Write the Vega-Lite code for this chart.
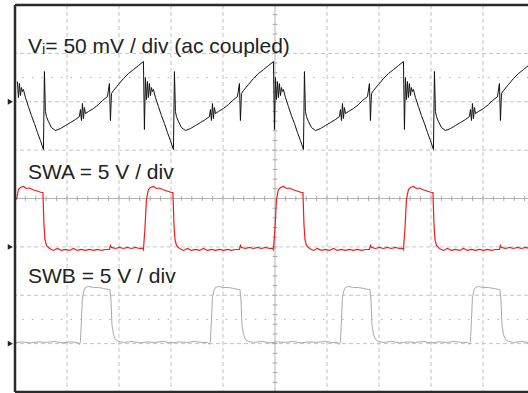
{
  "$schema": "https://vega.github.io/schema/vega-lite/v6.json",
  "width": 513,
  "height": 387,
  "autosize": {"type": "none"},
  "padding": {"left": 15, "top": 5, "right": 0, "bottom": 1},
  "background": "white",
  "config": {"view": {"stroke": null}},
  "datasets": {
    "vi": [
      {"t":0.047,"v":2.417},{"t":0.066,"v":2.087},{"t":0.085,"v":2.376},{"t":0.105,"v":2.128},{"t":0.124,"v":2.293},{"t":0.143,"v":2.211},{"t":0.162,"v":2.252},{"t":0.201,"v":2.087},{"t":0.258,"v":1.901},{"t":0.316,"v":1.715},{"t":0.374,"v":1.550},{"t":0.432,"v":1.364},{"t":0.489,"v":1.198},{"t":0.547,"v":1.012},{"t":0.566,"v":2.624},{"t":0.585,"v":1.798},{"t":0.605,"v":1.694},{"t":0.643,"v":1.591},{"t":0.701,"v":1.467},{"t":0.778,"v":1.405},{"t":0.874,"v":1.446},{"t":0.970,"v":1.508},{"t":1.066,"v":1.570},{"t":1.162,"v":1.632},{"t":1.239,"v":1.694},{"t":1.258,"v":1.839},{"t":1.278,"v":1.612},{"t":1.297,"v":1.963},{"t":1.316,"v":1.653},{"t":1.335,"v":1.880},{"t":1.355,"v":1.756},{"t":1.412,"v":1.798},{"t":1.508,"v":1.860},{"t":1.605,"v":1.942},{"t":1.682,"v":2.025},{"t":1.778,"v":2.107},{"t":1.816,"v":2.376},{"t":1.835,"v":1.612},{"t":1.855,"v":2.169},{"t":1.893,"v":2.231},{"t":1.989,"v":2.355},{"t":2.085,"v":2.479},{"t":2.182,"v":2.583},{"t":2.278,"v":2.665},{"t":2.374,"v":2.748},
      {"t":2.470,"v":2.831},{"t":2.489,"v":1.426},{"t":2.508,"v":2.500},{"t":2.528,"v":2.045},{"t":2.547,"v":2.417},{"t":2.566,"v":2.087},{"t":2.585,"v":2.376},{"t":2.605,"v":2.128},{"t":2.624,"v":2.293},{"t":2.643,"v":2.211},{"t":2.662,"v":2.252},{"t":2.701,"v":2.087},{"t":2.758,"v":1.901},{"t":2.816,"v":1.715},{"t":2.874,"v":1.550},{"t":2.932,"v":1.364},{"t":2.989,"v":1.198},{"t":3.047,"v":1.012},{"t":3.066,"v":2.624},{"t":3.085,"v":1.798},{"t":3.105,"v":1.694},{"t":3.143,"v":1.591},{"t":3.201,"v":1.467},{"t":3.278,"v":1.405},{"t":3.374,"v":1.446},{"t":3.470,"v":1.508},{"t":3.566,"v":1.570},{"t":3.662,"v":1.632},{"t":3.739,"v":1.694},{"t":3.758,"v":1.839},{"t":3.778,"v":1.612},{"t":3.797,"v":1.963},{"t":3.816,"v":1.653},{"t":3.835,"v":1.880},{"t":3.855,"v":1.756},{"t":3.912,"v":1.798},{"t":4.008,"v":1.860},{"t":4.105,"v":1.942},{"t":4.182,"v":2.025},{"t":4.278,"v":2.107},{"t":4.316,"v":2.376},{"t":4.335,"v":1.612},{"t":4.355,"v":2.169},{"t":4.393,"v":2.231},{"t":4.489,"v":2.355},{"t":4.585,"v":2.479},{"t":4.682,"v":2.583},{"t":4.778,"v":2.665},{"t":4.874,"v":2.748},
      {"t":4.970,"v":2.831},{"t":4.989,"v":1.426},{"t":5.008,"v":2.500},{"t":5.028,"v":2.045},{"t":5.047,"v":2.417},{"t":5.066,"v":2.087},{"t":5.085,"v":2.376},{"t":5.105,"v":2.128},{"t":5.124,"v":2.293},{"t":5.143,"v":2.211},{"t":5.162,"v":2.252},{"t":5.201,"v":2.087},{"t":5.258,"v":1.901},{"t":5.316,"v":1.715},{"t":5.374,"v":1.550},{"t":5.432,"v":1.364},{"t":5.489,"v":1.198},{"t":5.547,"v":1.012},{"t":5.566,"v":2.624},{"t":5.585,"v":1.798},{"t":5.605,"v":1.694},{"t":5.643,"v":1.591},{"t":5.701,"v":1.467},{"t":5.778,"v":1.405},{"t":5.874,"v":1.446},{"t":5.970,"v":1.508},{"t":6.066,"v":1.570},{"t":6.162,"v":1.632},{"t":6.239,"v":1.694},{"t":6.258,"v":1.839},{"t":6.278,"v":1.612},{"t":6.297,"v":1.963},{"t":6.316,"v":1.653},{"t":6.335,"v":1.880},{"t":6.355,"v":1.756},{"t":6.412,"v":1.798},{"t":6.508,"v":1.860},{"t":6.605,"v":1.942},{"t":6.682,"v":2.025},{"t":6.778,"v":2.107},{"t":6.816,"v":2.376},{"t":6.835,"v":1.612},{"t":6.855,"v":2.169},{"t":6.893,"v":2.231},{"t":6.989,"v":2.355},{"t":7.085,"v":2.479},{"t":7.182,"v":2.583},{"t":7.278,"v":2.665},{"t":7.374,"v":2.748},
      {"t":7.470,"v":2.831},{"t":7.489,"v":1.426},{"t":7.508,"v":2.500},{"t":7.528,"v":2.045},{"t":7.547,"v":2.417},{"t":7.566,"v":2.087},{"t":7.585,"v":2.376},{"t":7.605,"v":2.128},{"t":7.624,"v":2.293},{"t":7.643,"v":2.211},{"t":7.662,"v":2.252},{"t":7.701,"v":2.087},{"t":7.758,"v":1.901},{"t":7.816,"v":1.715},{"t":7.874,"v":1.550},{"t":7.932,"v":1.364},{"t":7.989,"v":1.198},{"t":8.047,"v":1.012},{"t":8.066,"v":2.624},{"t":8.085,"v":1.798},{"t":8.105,"v":1.694},{"t":8.143,"v":1.591},{"t":8.201,"v":1.467},{"t":8.278,"v":1.405},{"t":8.374,"v":1.446},{"t":8.470,"v":1.508},{"t":8.566,"v":1.570},{"t":8.662,"v":1.632},{"t":8.739,"v":1.694},{"t":8.758,"v":1.839},{"t":8.778,"v":1.612},{"t":8.797,"v":1.963},{"t":8.816,"v":1.653},{"t":8.835,"v":1.880},{"t":8.855,"v":1.756},{"t":8.912,"v":1.798},{"t":9.008,"v":1.860},{"t":9.105,"v":1.942},{"t":9.182,"v":2.025},{"t":9.278,"v":2.107},{"t":9.316,"v":2.376},{"t":9.335,"v":1.612},{"t":9.355,"v":2.169},{"t":9.393,"v":2.231},{"t":9.489,"v":2.355},{"t":9.585,"v":2.479},{"t":9.682,"v":2.583},{"t":9.778,"v":2.665},{"t":9.874,"v":2.748},{"t":9.970,"v":2.831}
    ],
    "swa": [
      {"t":0.028,"v":-0.021},{"t":0.066,"v":0.186},{"t":0.105,"v":0.227},{"t":0.162,"v":0.248},{"t":0.220,"v":0.207},{"t":0.278,"v":0.217},{"t":0.335,"v":0.186},{"t":0.393,"v":0.165},{"t":0.451,"v":0.145},{"t":0.508,"v":0.124},{"t":0.537,"v":0.124},{"t":0.557,"v":-0.537},{"t":0.576,"v":-0.847},{"t":0.605,"v":-0.971},{"t":0.662,"v":-1.033},{"t":0.739,"v":-1.074},{"t":0.816,"v":-1.033},{"t":0.893,"v":-1.074},{"t":0.970,"v":-1.054},{"t":1.047,"v":-1.074},{"t":1.124,"v":-1.033},{"t":1.201,"v":-1.074},{"t":1.278,"v":-1.054},{"t":1.355,"v":-1.074},{"t":1.432,"v":-1.054},{"t":1.508,"v":-1.074},{"t":1.585,"v":-1.054},{"t":1.662,"v":-1.074},{"t":1.739,"v":-1.054},{"t":1.816,"v":-1.054},{"t":1.835,"v":-0.971},{"t":1.855,"v":-1.012},{"t":1.932,"v":-1.033},{"t":2.008,"v":-1.012},{"t":2.085,"v":-1.033},{"t":2.162,"v":-1.012},{"t":2.239,"v":-1.033},{"t":2.316,"v":-1.012},{"t":2.393,"v":-1.033},{"t":2.460,"v":-1.033},
      {"t":2.470,"v":-1.054},{"t":2.499,"v":-0.620},{"t":2.528,"v":-0.021},{"t":2.566,"v":0.186},{"t":2.605,"v":0.227},{"t":2.662,"v":0.248},{"t":2.720,"v":0.207},{"t":2.778,"v":0.217},{"t":2.835,"v":0.186},{"t":2.893,"v":0.165},{"t":2.951,"v":0.145},{"t":3.008,"v":0.124},{"t":3.037,"v":0.124},{"t":3.057,"v":-0.537},{"t":3.076,"v":-0.847},{"t":3.105,"v":-0.971},{"t":3.162,"v":-1.033},{"t":3.239,"v":-1.074},{"t":3.316,"v":-1.033},{"t":3.393,"v":-1.074},{"t":3.470,"v":-1.054},{"t":3.547,"v":-1.074},{"t":3.624,"v":-1.033},{"t":3.701,"v":-1.074},{"t":3.778,"v":-1.054},{"t":3.855,"v":-1.074},{"t":3.932,"v":-1.054},{"t":4.008,"v":-1.074},{"t":4.085,"v":-1.054},{"t":4.162,"v":-1.074},{"t":4.239,"v":-1.054},{"t":4.316,"v":-1.054},{"t":4.335,"v":-0.971},{"t":4.355,"v":-1.012},{"t":4.432,"v":-1.033},{"t":4.508,"v":-1.012},{"t":4.585,"v":-1.033},{"t":4.662,"v":-1.012},{"t":4.739,"v":-1.033},{"t":4.816,"v":-1.012},{"t":4.893,"v":-1.033},{"t":4.960,"v":-1.033},
      {"t":4.970,"v":-1.054},{"t":4.999,"v":-0.620},{"t":5.028,"v":-0.021},{"t":5.066,"v":0.186},{"t":5.105,"v":0.227},{"t":5.162,"v":0.248},{"t":5.220,"v":0.207},{"t":5.278,"v":0.217},{"t":5.335,"v":0.186},{"t":5.393,"v":0.165},{"t":5.451,"v":0.145},{"t":5.508,"v":0.124},{"t":5.537,"v":0.124},{"t":5.557,"v":-0.537},{"t":5.576,"v":-0.847},{"t":5.605,"v":-0.971},{"t":5.662,"v":-1.033},{"t":5.739,"v":-1.074},{"t":5.816,"v":-1.033},{"t":5.893,"v":-1.074},{"t":5.970,"v":-1.054},{"t":6.047,"v":-1.074},{"t":6.124,"v":-1.033},{"t":6.201,"v":-1.074},{"t":6.278,"v":-1.054},{"t":6.355,"v":-1.074},{"t":6.432,"v":-1.054},{"t":6.508,"v":-1.074},{"t":6.585,"v":-1.054},{"t":6.662,"v":-1.074},{"t":6.739,"v":-1.054},{"t":6.816,"v":-1.054},{"t":6.835,"v":-0.971},{"t":6.855,"v":-1.012},{"t":6.932,"v":-1.033},{"t":7.008,"v":-1.012},{"t":7.085,"v":-1.033},{"t":7.162,"v":-1.012},{"t":7.239,"v":-1.033},{"t":7.316,"v":-1.012},{"t":7.393,"v":-1.033},{"t":7.460,"v":-1.033},
      {"t":7.470,"v":-1.054},{"t":7.499,"v":-0.620},{"t":7.528,"v":-0.021},{"t":7.566,"v":0.186},{"t":7.605,"v":0.227},{"t":7.662,"v":0.248},{"t":7.720,"v":0.207},{"t":7.778,"v":0.217},{"t":7.835,"v":0.186},{"t":7.893,"v":0.165},{"t":7.951,"v":0.145},{"t":8.008,"v":0.124},{"t":8.037,"v":0.124},{"t":8.057,"v":-0.537},{"t":8.076,"v":-0.847},{"t":8.105,"v":-0.971},{"t":8.162,"v":-1.033},{"t":8.239,"v":-1.074},{"t":8.316,"v":-1.033},{"t":8.393,"v":-1.074},{"t":8.470,"v":-1.054},{"t":8.547,"v":-1.074},{"t":8.624,"v":-1.033},{"t":8.701,"v":-1.074},{"t":8.778,"v":-1.054},{"t":8.855,"v":-1.074},{"t":8.932,"v":-1.054},{"t":9.008,"v":-1.074},{"t":9.085,"v":-1.054},{"t":9.162,"v":-1.074},{"t":9.239,"v":-1.054},{"t":9.316,"v":-1.054},{"t":9.335,"v":-0.971},{"t":9.355,"v":-1.012},{"t":9.432,"v":-1.033},{"t":9.508,"v":-1.012},{"t":9.585,"v":-1.033},{"t":9.662,"v":-1.012},{"t":9.739,"v":-1.033},{"t":9.816,"v":-1.012},{"t":9.893,"v":-1.033}
    ],
    "swb": [
      {"t":0.020,"v":-2.975},{"t":0.150,"v":-2.965},{"t":0.300,"v":-2.985},{"t":0.450,"v":-2.965},{"t":0.600,"v":-2.975},{"t":0.750,"v":-2.955},{"t":0.900,"v":-2.985},{"t":1.050,"v":-2.965},
      {"t":1.201,"v":-2.975},{"t":1.239,"v":-3.017},{"t":1.258,"v":-2.955},{"t":1.278,"v":-2.500},{"t":1.297,"v":-2.045},{"t":1.326,"v":-1.901},{"t":1.355,"v":-1.839},{"t":1.412,"v":-1.818},{"t":1.508,"v":-1.839},{"t":1.605,"v":-1.839},{"t":1.701,"v":-1.860},{"t":1.797,"v":-1.880},{"t":1.826,"v":-1.880},{"t":1.845,"v":-2.087},{"t":1.864,"v":-2.603},{"t":1.893,"v":-2.810},{"t":1.932,"v":-2.913},{"t":1.989,"v":-2.955},{"t":2.085,"v":-2.975},
      {"t":2.250,"v":-2.955},{"t":2.400,"v":-2.985},{"t":2.550,"v":-2.965},{"t":2.700,"v":-2.975},{"t":2.850,"v":-2.955},{"t":3.000,"v":-2.985},{"t":3.150,"v":-2.965},{"t":3.300,"v":-2.975},{"t":3.450,"v":-2.955},{"t":3.600,"v":-2.975},
      {"t":3.701,"v":-2.975},{"t":3.739,"v":-3.017},{"t":3.758,"v":-2.955},{"t":3.778,"v":-2.500},{"t":3.797,"v":-2.045},{"t":3.826,"v":-1.901},{"t":3.855,"v":-1.839},{"t":3.912,"v":-1.818},{"t":4.008,"v":-1.839},{"t":4.105,"v":-1.839},{"t":4.201,"v":-1.860},{"t":4.297,"v":-1.880},{"t":4.326,"v":-1.880},{"t":4.345,"v":-2.087},{"t":4.364,"v":-2.603},{"t":4.393,"v":-2.810},{"t":4.432,"v":-2.913},{"t":4.489,"v":-2.955},{"t":4.585,"v":-2.975},
      {"t":4.750,"v":-2.955},{"t":4.900,"v":-2.985},{"t":5.050,"v":-2.965},{"t":5.200,"v":-2.975},{"t":5.350,"v":-2.955},{"t":5.500,"v":-2.985},{"t":5.650,"v":-2.965},{"t":5.800,"v":-2.975},{"t":5.950,"v":-2.955},{"t":6.100,"v":-2.975},
      {"t":6.201,"v":-2.975},{"t":6.239,"v":-3.017},{"t":6.258,"v":-2.955},{"t":6.278,"v":-2.500},{"t":6.297,"v":-2.045},{"t":6.326,"v":-1.901},{"t":6.355,"v":-1.839},{"t":6.412,"v":-1.818},{"t":6.508,"v":-1.839},{"t":6.605,"v":-1.839},{"t":6.701,"v":-1.860},{"t":6.797,"v":-1.880},{"t":6.826,"v":-1.880},{"t":6.845,"v":-2.087},{"t":6.864,"v":-2.603},{"t":6.893,"v":-2.810},{"t":6.932,"v":-2.913},{"t":6.989,"v":-2.955},{"t":7.085,"v":-2.975},
      {"t":7.250,"v":-2.955},{"t":7.400,"v":-2.985},{"t":7.550,"v":-2.965},{"t":7.700,"v":-2.975},{"t":7.850,"v":-2.955},{"t":8.000,"v":-2.985},{"t":8.150,"v":-2.965},{"t":8.300,"v":-2.975},{"t":8.450,"v":-2.955},{"t":8.600,"v":-2.975},
      {"t":8.701,"v":-2.975},{"t":8.739,"v":-3.017},{"t":8.758,"v":-2.955},{"t":8.778,"v":-2.500},{"t":8.797,"v":-2.045},{"t":8.826,"v":-1.901},{"t":8.855,"v":-1.839},{"t":8.912,"v":-1.818},{"t":9.008,"v":-1.839},{"t":9.105,"v":-1.839},{"t":9.201,"v":-1.860},{"t":9.297,"v":-1.880},{"t":9.326,"v":-1.880},{"t":9.345,"v":-2.087},{"t":9.364,"v":-2.603},{"t":9.393,"v":-2.810},{"t":9.432,"v":-2.913},{"t":9.489,"v":-2.955},{"t":9.585,"v":-2.975},{"t":9.750,"v":-2.955},{"t":9.900,"v":-2.985}
    ],
    "xticks": [{"t":0.2},{"t":0.4},{"t":0.6},{"t":0.8},{"t":1.0},{"t":1.2},{"t":1.4},{"t":1.6},{"t":1.8},{"t":2.0},{"t":2.2},{"t":2.4},{"t":2.6},{"t":2.8},{"t":3.0},{"t":3.2},{"t":3.4},{"t":3.6},{"t":3.8},{"t":4.0},{"t":4.2},{"t":4.4},{"t":4.6},{"t":4.8},{"t":5.2},{"t":5.4},{"t":5.6},{"t":5.8},{"t":6.0},{"t":6.2},{"t":6.4},{"t":6.6},{"t":6.8},{"t":7.0},{"t":7.2},{"t":7.4},{"t":7.6},{"t":7.8},{"t":8.0},{"t":8.2},{"t":8.4},{"t":8.6},{"t":8.8},{"t":9.0},{"t":9.2},{"t":9.4},{"t":9.6},{"t":9.8}],
    "yticks": [{"v":-3.8},{"v":-3.6},{"v":-3.4},{"v":-3.2},{"v":-3.0},{"v":-2.8},{"v":-2.6},{"v":-2.4},{"v":-2.2},{"v":-2.0},{"v":-1.8},{"v":-1.6},{"v":-1.4},{"v":-1.2},{"v":-1.0},{"v":-0.8},{"v":-0.6},{"v":-0.4},{"v":-0.2},{"v":0.2},{"v":0.4},{"v":0.6},{"v":0.8},{"v":1.0},{"v":1.2},{"v":1.4},{"v":1.6},{"v":1.8},{"v":2.0},{"v":2.2},{"v":2.4},{"v":2.6},{"v":2.8},{"v":3.0},{"v":3.2},{"v":3.4},{"v":3.6},{"v":3.8}]
  },
  "layer": [
    {
      "data": {"values": [{"t":1},{"t":2},{"t":3},{"t":4},{"t":6},{"t":7},{"t":8},{"t":9}]},
      "mark": {"type": "rule", "color": "#c4c4c4", "strokeWidth": 1, "strokeDash": [4, 3]},
      "encoding": {
        "x": {"field": "t", "type": "quantitative", "scale": {"domain": [0, 9.865], "nice": false, "zero": false}, "axis": null}
      }
    },
    {
      "data": {"values": [{"v":-3},{"v":-2},{"v":-1},{"v":1},{"v":2},{"v":3}]},
      "mark": {"type": "rule", "color": "#c4c4c4", "strokeWidth": 1, "strokeDash": [4, 3]},
      "encoding": {
        "y": {"field": "v", "type": "quantitative", "scale": {"domain": [-4, 4], "nice": false, "zero": false}, "axis": null}
      }
    },
    {
      "data": {"values": [{"v":-2.5},{"v":2.5}]},
      "mark": {"type": "rule", "color": "#b0b0b0", "strokeWidth": 1, "strokeDash": [1.5, 8.2]},
      "encoding": {
        "y": {"field": "v", "type": "quantitative", "scale": {"domain": [-4, 4], "nice": false, "zero": false}, "axis": null}
      }
    },
    {
      "data": {"values": [{"t":5}]},
      "mark": {"type": "rule", "color": "#b4b4b4", "strokeWidth": 1},
      "encoding": {
        "x": {"field": "t", "type": "quantitative", "scale": {"domain": [0, 9.865], "nice": false, "zero": false}, "axis": null}
      }
    },
    {
      "data": {"values": [{"v":0}]},
      "mark": {"type": "rule", "color": "#b4b4b4", "strokeWidth": 1},
      "encoding": {
        "y": {"field": "v", "type": "quantitative", "scale": {"domain": [-4, 4], "nice": false, "zero": false}, "axis": null}
      }
    },
    {
      "data": {"name": "xticks"},
      "mark": {"type": "rule", "color": "#a8a8a8", "strokeWidth": 1},
      "encoding": {
        "x": {"field": "t", "type": "quantitative", "scale": {"domain": [0, 9.865], "nice": false, "zero": false}, "axis": null},
        "y": {"datum": -0.05, "type": "quantitative", "scale": {"domain": [-4, 4], "nice": false, "zero": false}, "axis": null},
        "y2": {"datum": 0.05}
      }
    },
    {
      "data": {"name": "yticks"},
      "mark": {"type": "rule", "color": "#a8a8a8", "strokeWidth": 1},
      "encoding": {
        "y": {"field": "v", "type": "quantitative", "scale": {"domain": [-4, 4], "nice": false, "zero": false}, "axis": null},
        "x": {"datum": 4.955, "type": "quantitative", "scale": {"domain": [0, 9.865], "nice": false, "zero": false}, "axis": null},
        "x2": {"datum": 5.045}
      }
    },
    {
      "data": {"name": "swb"},
      "mark": {"type": "line", "color": "#a9a9a9", "strokeWidth": 1, "clip": true},
      "encoding": {
        "x": {"field": "t", "type": "quantitative", "scale": {"domain": [0, 9.865], "nice": false, "zero": false}, "axis": null},
        "y": {"field": "v", "type": "quantitative", "scale": {"domain": [-4, 4], "nice": false, "zero": false}, "axis": null}
      }
    },
    {
      "data": {"name": "swa"},
      "mark": {"type": "line", "color": "#f21b1b", "strokeWidth": 1.2, "clip": true},
      "encoding": {
        "x": {"field": "t", "type": "quantitative", "scale": {"domain": [0, 9.865], "nice": false, "zero": false}, "axis": null},
        "y": {"field": "v", "type": "quantitative", "scale": {"domain": [-4, 4], "nice": false, "zero": false}, "axis": null}
      }
    },
    {
      "data": {"name": "vi"},
      "mark": {"type": "line", "color": "#111111", "strokeWidth": 1, "clip": true},
      "encoding": {
        "x": {"field": "t", "type": "quantitative", "scale": {"domain": [0, 9.865], "nice": false, "zero": false}, "axis": null},
        "y": {"field": "v", "type": "quantitative", "scale": {"domain": [-4, 4], "nice": false, "zero": false}, "axis": null}
      }
    },
    {
      "data": {"values": [{"t":0}]},
      "mark": {"type": "rule", "color": "#2a2a2a", "strokeWidth": 2.5},
      "encoding": {
        "x": {"field": "t", "type": "quantitative", "scale": {"domain": [0, 9.865], "nice": false, "zero": false}, "axis": null}
      }
    },
    {
      "data": {"values": [{"v":4},{"v":-4}]},
      "mark": {"type": "rule", "color": "#2a2a2a", "strokeWidth": 2.5},
      "encoding": {
        "y": {"field": "v", "type": "quantitative", "scale": {"domain": [-4, 4], "nice": false, "zero": false}, "axis": null}
      }
    },
    {
      "data": {"values": [{"t":-0.09,"v":2},{"t":-0.09,"v":-1},{"t":-0.09,"v":-3}]},
      "mark": {"type": "point", "shape": "triangle-right", "filled": true, "color": "#222222", "size": 35, "opacity": 1},
      "encoding": {
        "x": {"field": "t", "type": "quantitative", "scale": {"domain": [0, 9.865], "nice": false, "zero": false}, "axis": null},
        "y": {"field": "v", "type": "quantitative", "scale": {"domain": [-4, 4], "nice": false, "zero": false}, "axis": null}
      }
    },
    {
      "data": {"values": [
        {"t":0.25,"v":3.017,"label":"Vᵢ= 50 mV / div (ac coupled)"},
        {"t":0.25,"v":0.393,"label":"SWA = 5 V / div"},
        {"t":0.25,"v":-1.742,"label":"SWB = 5 V / div"}
      ]},
      "mark": {"type": "text", "align": "left", "baseline": "alphabetic", "font": "Liberation Sans", "fontSize": 21, "color": "#222222"},
      "encoding": {
        "x": {"field": "t", "type": "quantitative", "scale": {"domain": [0, 9.865], "nice": false, "zero": false}, "axis": null},
        "y": {"field": "v", "type": "quantitative", "scale": {"domain": [-4, 4], "nice": false, "zero": false}, "axis": null},
        "text": {"field": "label", "type": "nominal"}
      }
    }
  ]
}
